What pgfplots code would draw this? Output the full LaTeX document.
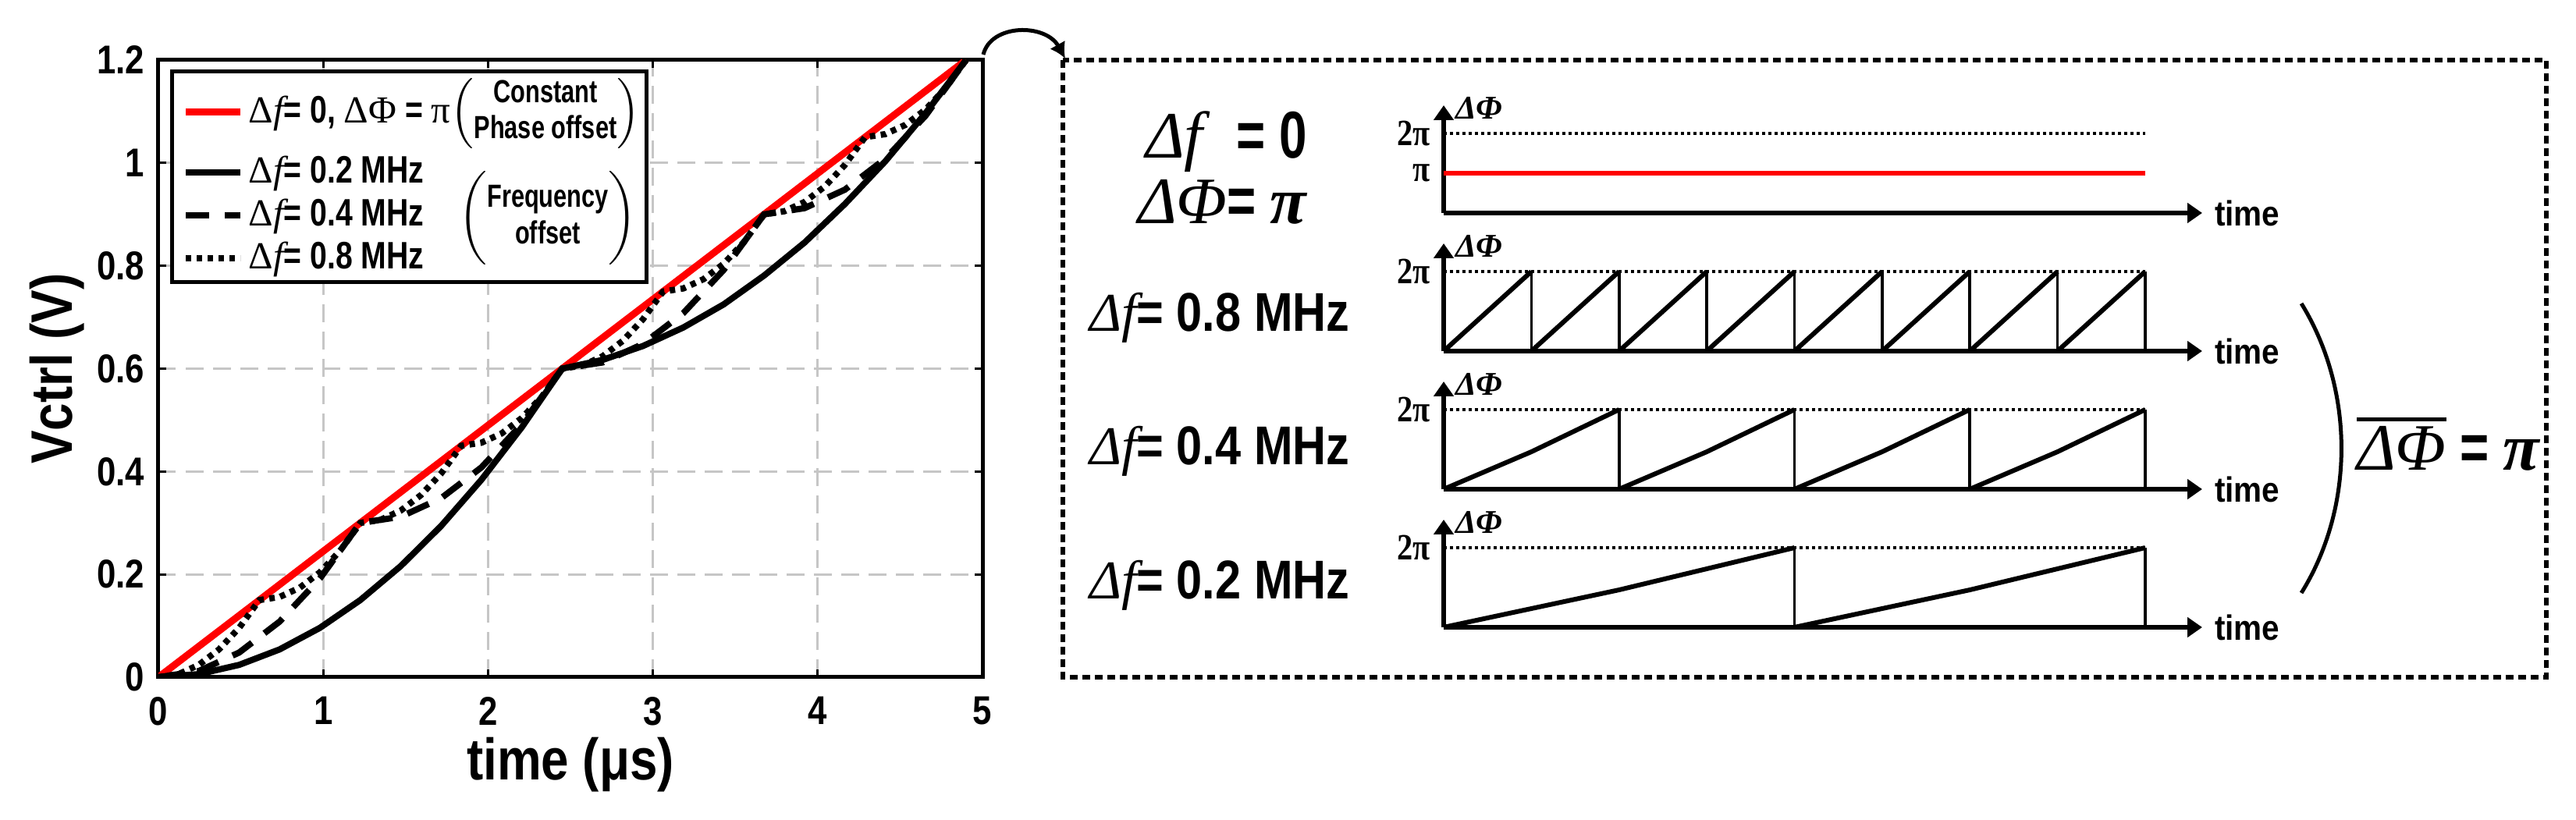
\documentclass[border=0pt]{standalone}
\usepackage{fontspec}
\usepackage{pgfplots}
\pgfplotsset{compat=1.18}
\usetikzlibrary{arrows.meta}
\setmainfont{Liberation Sans}[FakeStretch=0.9]
\newfontfamily\narr{Liberation Sans}[FakeStretch=0.85]
\newfontfamily\narl{Liberation Sans}[FakeStretch=0.8]
\newfontfamily\narw{Liberation Sans}[FakeStretch=0.75]
\newfontfamily\tms{Liberation Serif}
\newfontfamily\tmsc{Liberation Serif}[FakeStretch=0.85]
\newcommand\df{{\tms\mdseries Δ\itshape f}}
\newcommand\ovl[1]{\sbox0{#1}\rlap{\rule[\dimexpr\ht0+1.2pt\relax]{\wd0}{1.1pt}}\usebox0}
\pgfplotsset{
 sub/.style={scale only axis, width=194.4pt, height=27.6pt, anchor=south west,
   xmin=0, xmax=8.65, ymin=0, ymax=1.353,
   axis x line=bottom, axis y line=left,
   axis line style={line width=1.2pt, -{Triangle[length=3.8pt,width=5pt]}},
   xtick=\empty, ytick={1}, yticklabels={2π}, major tick length=0pt,
   yticklabel style={font=\tmsc\bfseries\fontsize{9.5}{10}\selectfont},
   clip=false},
 dotl/.style={black, line width=0.8pt, dash pattern=on 0.8pt off 0.8pt},
 vert/.style={black, line width=0.7pt, unbounded coords=jump},
 ramp/.style={black, line width=1.2pt, unbounded coords=jump},
 limg/.style={legend image code/.code={\draw[##1] (0pt,0pt) -- (14pt,0pt); \path[draw=none,fill=none] (0pt,-#1) -- (0pt,#1);}},
}
\newcommand\subdeco{%
 \node[anchor=west, inner sep=0pt, xshift=2.8pt, yshift=-0.6pt, font=\tms\bfseries\itshape\fontsize{8.5}{10}\selectfont] at (rel axis cs:0,1) {ΔΦ};
 \node[anchor=west, inner sep=0pt, xshift=3pt, font=\bfseries\fontsize{9}{10}\selectfont] at (rel axis cs:1,0) {time};
}
\begin{document}
\begin{tikzpicture}
\path[use as bounding box] (0,0) rectangle (660.2pt,-210.2pt);

\begin{axis}[
  at={(40.6pt,-173.6pt)}, anchor=south west,
  scale only axis, width=211.2pt, height=158.2pt,
  xmin=0, xmax=5, ymin=0, ymax=1.2,
  xtick={0,1,2,3,4,5}, ytick={0,0.2,0.4,0.6,0.8,1,1.2},
  axis line style={line width=1pt},
  tick style={black, line width=0.6pt},
  major tick length=2pt, tick align=inside,
  grid=major,
  major grid style={gray!45, line width=0.6pt, dash pattern=on 4.5pt off 2.5pt},
  /pgf/number format/assume math mode=true,
  ticklabel style={font=\narr\bfseries\fontsize{10.3}{11}\selectfont},
  xticklabel style={yshift=-1.5pt},
  xlabel={time (μs)}, ylabel={Vctrl (V)},
  label style={font=\narr\bfseries\fontsize{15}{17}\selectfont},
  xlabel style={at={(axis description cs:0.5,-0.1416)}, anchor=center},
  ylabel style={at={(axis description cs:-0.1231,0.5)}, anchor=center},
  legend style={at={(0.0142,0.985)}, anchor=north west, draw=black, line width=1pt, fill=white,
    font=\narl\bfseries\fontsize{9.8}{11}\selectfont, cells={anchor=west},
    inner xsep=2.6pt, inner ysep=0.5pt, row sep=0pt, nodes={inner ysep=0pt, inner xsep=1.2pt}},
]
\addplot[red, line width=1.8pt, limg=10pt] coordinates {(0,0) (4.9,1.2)};
\addlegendentry{\makebox[98.2pt][l]{\df= 0, {\tms\mdseries ΔΦ} = {\tms\mdseries π}}}
\addplot[black, line width=1.6pt, limg=5.5pt] coordinates {
(0,0) (0.245,0.006) (0.49,0.024) (0.735,0.054) (0.98,0.096) (1.225,0.15) (1.47,0.216) (1.715,0.294) (1.96,0.384) (2.205,0.486) (2.45,0.6)
(2.695,0.617) (2.94,0.644) (3.185,0.680) (3.43,0.725) (3.675,0.781) (3.92,0.845) (4.165,0.920) (4.41,1.003) (4.655,1.097) (4.9,1.2)};
\addlegendentry{\df= 0.2 MHz}
\addplot[black, line width=1.6pt, dash pattern=on 6pt off 4pt, limg=5.5pt] coordinates {
(0,0) (0.245,0.012) (0.49,0.048) (0.735,0.108) (0.98,0.192) (1.225,0.3)
(1.47,0.312) (1.715,0.348) (1.96,0.408) (2.205,0.492) (2.45,0.6)
(2.695,0.612) (2.94,0.648) (3.185,0.708) (3.43,0.792) (3.675,0.9)
(3.92,0.912) (4.165,0.948) (4.41,1.008) (4.655,1.092) (4.9,1.2)};
\addlegendentry{\df= 0.4 MHz}
\addplot[black, line width=1.6pt, dash pattern=on 1.4pt off 1.4pt, limg=5.5pt] coordinates {
(0,0) (0.1225,0.006) (0.245,0.024) (0.3675,0.054) (0.49,0.096) (0.6125,0.15)
(0.735,0.156) (0.8575,0.174) (0.98,0.204) (1.1025,0.246) (1.225,0.3)
(1.3475,0.306) (1.47,0.324) (1.5925,0.354) (1.715,0.396) (1.8375,0.45)
(1.96,0.456) (2.0825,0.474) (2.205,0.504) (2.3275,0.546) (2.45,0.6)
(2.5725,0.606) (2.695,0.624) (2.8175,0.654) (2.94,0.696) (3.0625,0.75)
(3.185,0.756) (3.3075,0.774) (3.43,0.804) (3.5525,0.846) (3.675,0.9)
(3.7975,0.906) (3.92,0.924) (4.0425,0.954) (4.165,0.996) (4.2875,1.05)
(4.41,1.056) (4.5325,1.074) (4.655,1.104) (4.7775,1.146) (4.9,1.2)};
\addlegendentry{\df= 0.8 MHz}
\end{axis}

\node[font=\narw\bfseries\fontsize{8.2}{9.2}\selectfont, inner sep=0pt] at (139.8pt,-29.1pt)
 {$\left(\vcenter{\hbox{\begin{tabular}{@{}c@{}}Constant\\Phase offset\end{tabular}}}\right)$};
\node[font=\narw\bfseries\fontsize{8.2}{9.4}\selectfont, inner sep=0pt] at (140.4pt,-56pt)
 {$\left(\vcenter{\hbox{\rule{0pt}{24pt}}}\vcenter{\hbox{\begin{tabular}{@{}c@{}}Frequency\\offset\end{tabular}}}\right)$};

% curved arrow and dashed frame
\draw[line width=1pt, -{Latex[length=4pt,width=4.5pt]}] (252pt,-14pt) .. controls (254pt,-6pt) and (268pt,-6pt) .. (273pt,-15pt);
\draw[line width=1.1pt, dash pattern=on 2pt off 1.2pt] (272.4pt,-15.4pt) rectangle (652.6pt,-173.6pt);

% subplot 1: constant phase
\begin{axis}[sub, at={(370pt,-54.6pt)}, ytick={0.5,1}, yticklabels={π,2π}]
\addplot[dotl] coordinates {(0,1) (8,1)};
\addplot[red, line width=1.1pt] coordinates {(0,0.5) (8,0.5)};
\subdeco
\end{axis}

% subplot 2: 0.8 MHz
\begin{axis}[sub, at={(370pt,-90pt)}]
\addplot[dotl] coordinates {(0,1) (8,1)};
\addplot[vert] coordinates {(1,0) (1,1) (1,nan) (2,0) (2,1) (2,nan) (3,0) (3,1) (3,nan) (4,0) (4,1) (4,nan) (5,0) (5,1) (5,nan) (6,0) (6,1) (6,nan) (7,0) (7,1) (7,nan) (8,0) (8,1)};
\addplot[ramp] coordinates {(0,0) (1,1) (1,nan) (1,0) (2,1) (2,nan) (2,0) (3,1) (3,nan) (3,0) (4,1) (4,nan) (4,0) (5,1) (5,nan) (5,0) (6,1) (6,nan) (6,0) (7,1) (7,nan) (7,0) (8,1)};
\subdeco
\end{axis}

% subplot 3: 0.4 MHz
\begin{axis}[sub, at={(370pt,-125.4pt)}]
\addplot[dotl] coordinates {(0,1) (8,1)};
\addplot[vert] coordinates {(2,0) (2,1) (2,nan) (4,0) (4,1) (4,nan) (6,0) (6,1) (6,nan) (8,0) (8,1)};
\addplot[ramp] coordinates {(0,0) (1,0.47) (2,1) (2,nan) (2,0) (3,0.47) (4,1) (4,nan) (4,0) (5,0.47) (6,1) (6,nan) (6,0) (7,0.47) (8,1)};
\subdeco
\end{axis}

% subplot 4: 0.2 MHz
\begin{axis}[sub, at={(370pt,-160.8pt)}]
\addplot[dotl] coordinates {(0,1) (8,1)};
\addplot[vert] coordinates {(4,0) (4,1) (4,nan) (8,0) (8,1)};
\addplot[ramp] coordinates {(0,0) (2,0.47) (4,1) (4,nan) (4,0) (6,0.47) (8,1)};
\subdeco
\end{axis}

% left labels of the right panel
\node[anchor=west, inner sep=0pt, font=\narw\bfseries\fontsize{17}{19}\selectfont] at (293.4pt,-36.4pt) {{\tms\mdseries\itshape Δf}\hspace{5pt} = 0};
\node[anchor=west, inner sep=0pt, font=\narw\bfseries\fontsize{17}{19}\selectfont] at (291.4pt,-51.8pt) {{\tms\mdseries\itshape ΔΦ}= {\tms\itshape π}};
\node[anchor=west, inner sep=0pt, font=\narr\bfseries\fontsize{14}{16}\selectfont] at (279pt,-81.4pt) {{\tms\mdseries\itshape Δf}= 0.8 MHz};
\node[anchor=west, inner sep=0pt, font=\narr\bfseries\fontsize{14}{16}\selectfont] at (279pt,-115.6pt) {{\tms\mdseries\itshape Δf}= 0.4 MHz};
\node[anchor=west, inner sep=0pt, font=\narr\bfseries\fontsize{14}{16}\selectfont] at (279pt,-150pt) {{\tms\mdseries\itshape Δf}= 0.2 MHz};

% bracket and mean phase
\draw[line width=1pt] (589.8pt,-77.8pt) .. controls (603.5pt,-100pt) and (603.5pt,-130pt) .. (589.8pt,-152pt);
\node[anchor=west, inner sep=0pt, font=\narw\bfseries\fontsize{17}{19}\selectfont] at (603.8pt,-113.8pt) {\ovl{\tms\mdseries\itshape ΔΦ} = {\tms\itshape π}};
\end{tikzpicture}
\end{document}
